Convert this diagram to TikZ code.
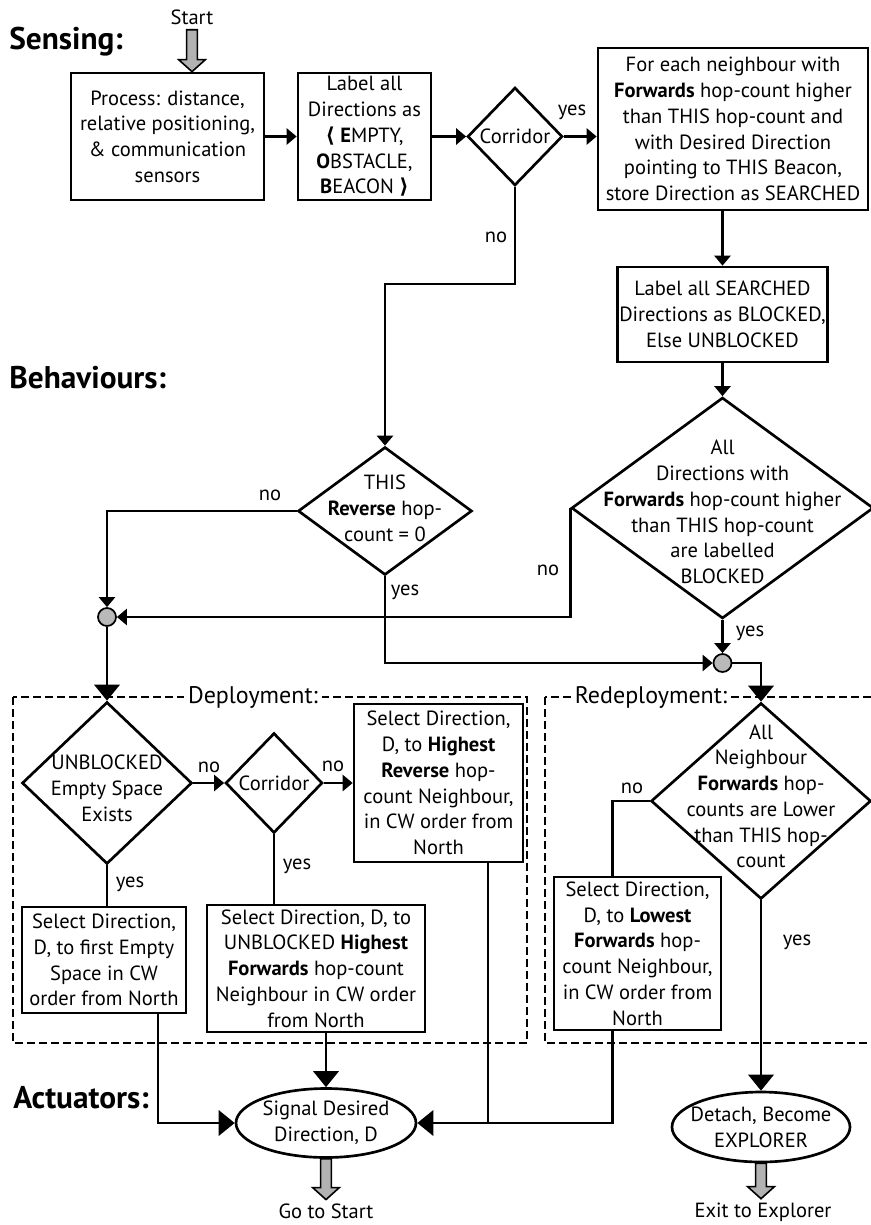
\documentclass[tikz,border=0pt]{standalone}
\usepackage{fontspec}
\setmainfont{PT Sans}
\newfontfamily\symfont{DejaVu Sans}
\usetikzlibrary{shapes.geometric,arrows.meta,calc}
\newcommand\fatarrow[2]{%
  \draw[fat] let \p1=(#1), \p2=(#2) in
    (\x1-4pt,\y1) -- (\x1-4pt,\y2+9pt) -- (\x1-10pt,\y2+9pt) -- (\x1,\y2)
    -- (\x1+10pt,\y2+9pt) -- (\x1+4pt,\y2+9pt) -- (\x1+4pt,\y1) -- cycle;}
\begin{document}
\begin{tikzpicture}[x=0.75pt,y=-0.75pt,line width=2pt,
  font=\fontsize{15.4}{19.3}\selectfont,
  box/.style={draw,rectangle,align=center,inner sep=0pt},
  dia/.style={draw,diamond,inner sep=0pt},
  ell/.style={draw,ellipse,inner sep=0pt},
  lbl/.style={align=center,inner sep=0pt},
  junc/.style={draw,circle,fill=gray!55,minimum size=13.5pt,inner sep=0pt,line width=1.3pt},
  title/.style={font=\fontsize{23.5}{28}\selectfont\bfseries,anchor=west,inner sep=0pt},
  arr/.style={-{Triangle[length=7.5pt,width=12pt]}},
  bigarr/.style={-{Triangle[length=12pt,width=19pt]}},
  zone/.style={dash pattern=on 6pt off 3pt,line width=1.8pt},
  zonelbl/.style={fill=white,inner sep=3pt,font=\fontsize{18}{21}\selectfont},
  fat/.style={fill=gray!60,draw,line width=1.2pt}]
\useasboundingbox (0,0) rectangle (871,1225);

% titles
\node[title] (tSens) at (8,42) {Sensing:};
\node[title] (tBeh) at (8,378) {Behaviours:};
\node[title] (tAct) at (12,1098) {Actuators:};

% sensing
\node[lbl] (start) at (192,17) {Start};
\node[box,minimum width=144.75pt,minimum height=95.25pt] (p1) at (167.5,136.5)
  {Process: distance,\\relative positioning,\\\& communication\\sensors};
\node[box,minimum width=99.75pt,minimum height=95.25pt] (p2) at (364.5,136.5)
  {Label all\\Directions as\\{\symfont\bfseries ⟨} \textbf{E}MPTY,\\\textbf{O}BSTACLE,\\\textbf{B}EACON {\symfont\bfseries ⟩}};
\node[dia,minimum width=71.25pt,minimum height=73.5pt,label={[lbl]center:Corridor}] (c1) at (515,136.5) {};
\node[box,minimum width=202.5pt,minimum height=121.5pt] (p3) at (733,129)
  {For each neighbour with\\\textbf{Forwards} hop-count higher\\than THIS hop-count and\\with Desired Direction\\pointing to THIS Beacon,\\store Direction as SEARCHED};
\node[box,minimum width=157.5pt,minimum height=71.25pt] (p4) at (722.5,314.5)
  {Label all SEARCHED\\Directions as BLOCKED,\\Else UNBLOCKED};

% behaviours
\node[dia,minimum width=226.5pt,minimum height=165.75pt,
  label={[lbl,yshift=-3pt]center:{All\\Directions with\\\textbf{Forwards} hop-count higher\\than THIS hop-count\\are labelled\\BLOCKED}}] (d2) at (722.5,508) {};
\node[dia,minimum width=130.5pt,minimum height=96pt,
  label={[lbl,yshift=2pt]center:{THIS\\\textbf{Reverse} hop-\\count = 0}}] (this) at (385,511) {};
\node[junc] (j1) at (107,617) {};
\node[junc] (j2) at (722.5,663) {};

% deployment zone
\draw[zone] (13,697) rectangle (527,1043);
\node[zonelbl] (dep) at (253,697) {Deployment:};
\node[dia,minimum width=127.5pt,minimum height=121.5pt,
  label={[lbl,yshift=-4pt]center:{UNBLOCKED\\Empty Space\\Exists}}] (d1) at (107,783) {};
\node[dia,minimum width=72.75pt,minimum height=75pt,label={[lbl]center:Corridor}] (c2) at (274,783) {};
\node[box,minimum width=126.75pt,minimum height=118.5pt] (hr) at (438.5,783)
  {Select Direction,\\D, to \textbf{Highest}\\\textbf{Reverse} hop-\\count Neighbour,\\in CW order from\\North};
\node[box,minimum width=123pt,minimum height=79.5pt] (fe) at (104,960)
  {Select Direction,\\D, to first Empty\\Space in CW\\order from North};
\node[box,minimum width=163.5pt,minimum height=95.25pt] (ub) at (316,968.5)
  {Select Direction, D, to\\UNBLOCKED \textbf{Highest}\\\textbf{Forwards} hop-count\\Neighbour in CW order\\from North};

% redeployment zone
\draw[zone] (545,697) rectangle (890,1043);
\node[zonelbl] (redep) at (651,697) {Redeployment:};
\node[dia,minimum width=165pt,minimum height=147pt,
  label={[lbl,yshift=3.5pt]center:{All\\Neighbour\\\textbf{Forwards} hop-\\counts are Lower\\than THIS hop-\\count}}] (r1) at (761,801) {};
\node[box,minimum width=125.25pt,minimum height=114.75pt] (lw) at (637.5,953.5)
  {Select Direction,\\D, to \textbf{Lowest}\\\textbf{Forwards} hop-\\count Neighbour,\\in CW order from\\North};

% actuators
\node[ell,minimum width=135pt,minimum height=51.75pt,
  label={[lbl]center:{Signal Desired\\Direction, D}}] (e1) at (326,1123) {};
\node[ell,minimum width=133.5pt,minimum height=52.5pt,
  label={[lbl]center:{Detach, Become\\EXPLORER}}] (e2) at (761,1127) {};
\node[lbl] (gts) at (326,1211) {Go to Start};
\node[lbl] (ete) at (763,1212) {Exit to Explorer};

% connectors: sensing
\fatarrow{[yshift=-3pt]start.south}{start.south |- p1.north}
\draw[arr] (p1) -- (p2);
\draw[arr] (p2) -- (c1);
\draw[arr] (c1.east) -- (c1.east -| p3.west);
\node[lbl] (yes1) at (572,112) {yes};
\draw[arr] (p3.south -| p4.north) -- (p4.north);
\draw[arr] (p4) -- (d2);
\draw[arr] (c1.south) -- (c1.south |- 0,284) -| (this.north);
\node[lbl] (no1) at (496,237) {no};

% connectors: behaviours
\draw[arr] (this.west) -| (j1.north);
\node[lbl] (no2) at (270,495) {no};
\draw[arr] (d2.west) |- (j1.east);
\node[lbl] (no3) at (548,570) {no};
\draw[arr] (this.south) |- (j2.west);
\node[lbl] (yes2) at (405,592) {yes};
\draw[arr] (d2.south) -- (j2.north);
\node[lbl] (yes3) at (750,633) {yes};
\draw[bigarr] (j1.south) -- (d1.north);
\draw[bigarr] (j2.east) -| (r1.north);

% connectors: deployment
\draw[arr] (d1.east) -- (c2.west);
\node[lbl] (no4) at (209,767) {no};
\draw[arr] (c2.east) -- (c2.east -| hr.west);
\node[lbl] (no5) at (333,766) {no};
\draw (d1.south) -- (d1.south |- fe.north);
\node[lbl] (yes4) at (130,884) {yes};
\draw (c2.south) -- (c2.south |- ub.north);
\node[lbl] (yes5) at (297,866) {yes};

% connectors: redeployment
\draw (r1.west) -| ([xshift=-19pt]lw.north);
\node[lbl] (no6) at (632,788) {no};
\draw[bigarr] (r1.south) -- (e2.north);
\node[lbl] (yes6) at (797,942) {yes};

% connectors: actuators
\draw[bigarr] (e1.north |- ub.south) -- (e1.north);
\draw[bigarr] ([xshift=40.5pt]fe.south) |- (e1.west);
\draw ([xshift=37pt]hr.south) -- ([xshift=37pt]hr.south |- e1.east);
\draw[bigarr] ([xshift=-19pt]lw.south) |- (e1.east);
\fatarrow{e1.south}{[yshift=2pt]e1.south |- gts.north}
\fatarrow{e2.south}{[yshift=2pt]e2.south |- ete.north}
\end{tikzpicture}
\end{document}
